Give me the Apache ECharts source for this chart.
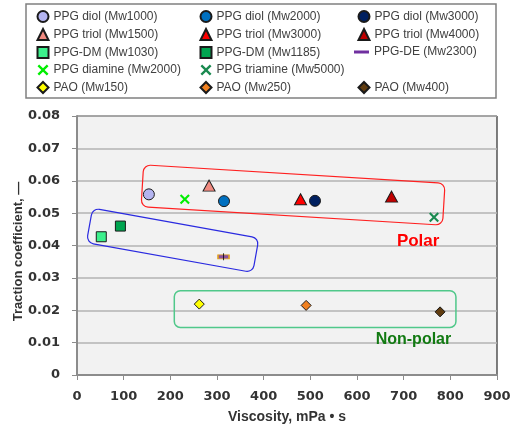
<!DOCTYPE html>
<html>
<head>
<meta charset="utf-8">
<script src="https://cdn.jsdelivr.net/npm/echarts@6/dist/echarts.min.js"></script>
<style>
  html, body { margin: 0; padding: 0; background: #ffffff; }
  #chart { width: 511px; height: 438px; }
</style>
</head>
<body>
<div id="chart"></div>
<script>
// Lubricant samples: viscosity (mPa·s) versus traction coefficient
const seriesNames = [
  'PPG diol (Mw1000)', 'PPG diol (Mw2000)', 'PPG diol (Mw3000)',
  'PPG triol (Mw1500)', 'PPG triol (Mw3000)', 'PPG triol (Mw4000)',
  'PPG-DM (Mw1030)', 'PPG-DM (Mw1185)', 'PPG-DE (Mw2300)',
  'PPG diamine (Mw2000)', 'PPG triamine (Mw5000)',
  'PAO (Mw150)', 'PAO (Mw250)', 'PAO (Mw400)'
];
const viscosity = [154, 315, 510, 283, 479, 674, 52, 93, 314, 231, 765, 262, 491, 778];
const traction = [0.0558, 0.0537, 0.0538, 0.0585, 0.0543, 0.0551, 0.0427, 0.0460, 0.0365, 0.0543, 0.0487, 0.0219, 0.0215, 0.0195];

const xTicks = ['0', '100', '200', '300', '400', '500', '600', '700', '800', '900'];
const yTicks = ['0', '0.01', '0.02', '0.03', '0.04', '0.05', '0.06', '0.07', '0.08'];

// Marker appearance per sample
const CROSS = 'path://M1.5,0L5,3.5L8.5,0L10,1.5L6.5,5L10,8.5L8.5,10L5,6.5L1.5,10L0,8.5L3.5,5L0,1.5Z';
const markStyles = [
  { symbol: 'circle', size: 11, color: '#b4b4f0' },
  { symbol: 'circle', size: 11, color: '#0070c0' },
  { symbol: 'circle', size: 11, color: '#002060' },
  { symbol: 'triangle', size: [12, 11], color: '#f08a80' },
  { symbol: 'triangle', size: [12, 11], color: '#ff0000' },
  { symbol: 'triangle', size: [12, 11], color: '#c00000' },
  { symbol: 'rect', size: 10, color: '#3cf08c' },
  { symbol: 'rect', size: 10, color: '#00a550' },
  { symbol: 'rect', size: [11, 4], color: '#8a50a0', border: '#e0a020' },
  { symbol: CROSS, size: 10, color: '#00ee00', border: 'none' },
  { symbol: CROSS, size: 10, color: '#1a8a50', border: 'none' },
  { symbol: 'diamond', size: 10, color: '#ffff00' },
  { symbol: 'diamond', size: 10, color: '#f08020' },
  { symbol: 'diamond', size: 10, color: '#603c10' }
];

const series = seriesNames.map((name, i) => {
  const s = markStyles[i];
  const noBorder = s.border === 'none';
  return {
    name: name,
    type: 'scatter',
    symbol: s.symbol,
    symbolSize: s.size,
    z: 5,
    itemStyle: {
      color: s.color,
      borderColor: noBorder ? s.color : (s.border || '#1a1a1a'),
      borderWidth: noBorder ? 0 : 1,
      opacity: 1
    },
    emphasis: { disabled: true },
    data: [[viscosity[i], traction[i]]]
  };
});

// small vertical whisker on the PPG-DE marker
const deIndex = seriesNames.indexOf('PPG-DE (Mw2300)');
series.push({
  name: 'PPG-DE whisker',
  type: 'scatter',
  symbol: 'rect',
  symbolSize: [1, 7],
  z: 6,
  itemStyle: { color: '#000000' },
  emphasis: { disabled: true },
  data: [[viscosity[deIndex], traction[deIndex]]]
});

const FONT = 'Liberation Sans';
const legendBase = {
  orient: 'vertical',
  padding: 0,
  itemWidth: 11,
  itemHeight: 11,
  itemGap: 5,
  selectedMode: false,
  textStyle: { fontSize: 12, color: '#404040', fontFamily: FONT, lineHeight: 12 }
};
const n = seriesNames;

const tickLabel = {
  fontFamily: 'DejaVu Sans',
  fontWeight: 'bold',
  fontSize: 13,
  color: '#333333'
};
const axisGray = '#8c8c8c';

const option = {
  animation: false,
  backgroundColor: '#ffffff',
  grid: {
    left: 77, right: 14, top: 116, bottom: 63,
    containLabel: false,
    outerBoundsMode: 'none',
    show: true,
    backgroundColor: '#f2f2f2',
    borderColor: '#000000',
    borderWidth: 1
  },
  legend: [
    Object.assign({}, legendBase, { left: 36.5, top: 10, data: [n[0], n[3], n[6], n[9], n[11]] }),
    Object.assign({}, legendBase, { left: 199.5, top: 10, data: [n[1], n[4], n[7], n[10], n[12]] }),
    Object.assign({}, legendBase, { left: 357.5, top: 10, data: [n[2], n[5]] }),
    Object.assign({}, legendBase, {
      left: 354, top: 46, itemWidth: 15, itemHeight: 3,
      data: [{ name: n[8], icon: 'rect', itemStyle: { color: '#7030a0', borderWidth: 0 } }]
    }),
    Object.assign({}, legendBase, { left: 357.5, top: 81, data: [n[13]] })
  ],
  xAxis: {
    type: 'value',
    min: 0, max: 900, interval: 100,
    name: 'Viscosity, mPa \u2022 s',
    nameLocation: 'middle',
    nameGap: 35,
    nameMoveOverlap: false,
    nameTextStyle: { fontFamily: FONT, fontWeight: 'bold', fontSize: 14, color: '#333333' },
    axisLine: { show: true, onZero: false, lineStyle: { color: axisGray, width: 2 } },
    axisTick: { show: true, length: 5, lineStyle: { color: axisGray, width: 1 } },
    splitLine: { show: false },
    axisLabel: Object.assign({ margin: 15, formatter: v => xTicks[Math.round(v / 100)] }, tickLabel)
  },
  yAxis: {
    type: 'value',
    min: 0, max: 0.08, interval: 0.01,
    name: 'Traction coefficient, \u2014',
    nameLocation: 'middle',
    nameRotate: 90,
    nameGap: 52,
    nameMoveOverlap: false,
    nameTextStyle: { fontFamily: FONT, fontWeight: 'bold', fontSize: 13, color: '#333333', padding: [0, 12, 0, 0] },
    axisLine: { show: true, lineStyle: { color: axisGray, width: 2 } },
    axisTick: { show: true, length: 5, lineStyle: { color: axisGray, width: 1 } },
    splitLine: { show: true, lineStyle: { color: '#b3b3b3', width: 1.5 } },
    axisLabel: Object.assign({ margin: 17, formatter: v => yTicks[Math.round(v * 100)] }, tickLabel)
  },
  series: series
};

const chart = echarts.init(document.getElementById('chart'), null, { renderer: 'canvas' });
chart.setOption(option);

// Group outlines and group labels, anchored in data space
const groupBoxes = [
  { cx: 463, cy: 0.0556, w: 302, h: 42, angle: 3.5, color: '#ff2020', width: 1.2 },
  { cx: 205, cy: 0.0416, w: 169, h: 35, angle: 10.2, color: '#2a2ae0', width: 1.2 }
];
const nonPolarBox = { x0: 208.5, x1: 812, y0: 0.0147, y1: 0.0260, color: '#50c88a', width: 1.5 };
const groupLabels = [
  { text: 'Polar', x: 731, y: 0.0414, color: '#ff0000', size: 17 },
  { text: 'Non-polar', x: 721, y: 0.0110, color: '#127a12', size: 16 }
];

const toPx = (x, y) => chart.convertToPixel({ gridIndex: 0 }, [x, y]);
const graphic = [];

// legend frame
graphic.push({
  type: 'rect', z: 0,
  shape: { x: 26, y: 4, width: 470, height: 94 },
  style: { fill: 'transparent', stroke: '#808080', lineWidth: 1.5 }
});

groupBoxes.forEach(b => {
  const p = toPx(b.cx, b.cy);
  graphic.push({
    type: 'rect', z: 10,
    x: p[0], y: p[1],
    rotation: -b.angle * Math.PI / 180,
    shape: { x: -b.w / 2, y: -b.h / 2, width: b.w, height: b.h, r: 7 },
    style: { fill: 'transparent', stroke: b.color, lineWidth: b.width }
  });
});

{
  const a = toPx(nonPolarBox.x0, nonPolarBox.y1);
  const b = toPx(nonPolarBox.x1, nonPolarBox.y0);
  graphic.push({
    type: 'rect', z: 10,
    shape: { x: a[0], y: a[1], width: b[0] - a[0], height: b[1] - a[1], r: 6 },
    style: { fill: 'transparent', stroke: nonPolarBox.color, lineWidth: nonPolarBox.width }
  });
}

groupLabels.forEach(l => {
  const p = toPx(l.x, l.y);
  graphic.push({
    type: 'text', z: 10,
    x: p[0], y: p[1],
    style: {
      text: l.text, fill: l.color,
      fontFamily: FONT, fontWeight: 'bold', fontSize: l.size,
      align: 'center', verticalAlign: 'middle'
    }
  });
});

chart.setOption({ graphic: graphic });
</script>
</body>
</html>
